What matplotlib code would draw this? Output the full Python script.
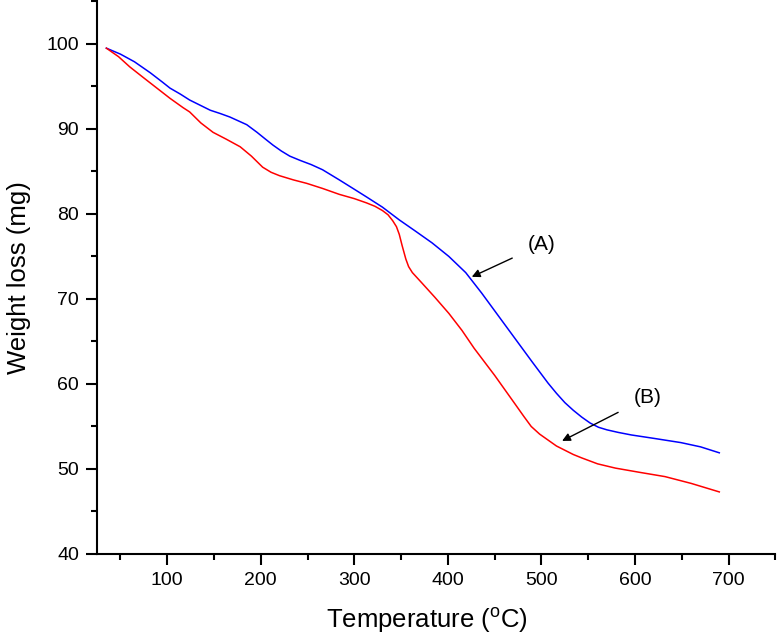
import matplotlib
matplotlib.use("Agg")
import matplotlib.pyplot as plt
from matplotlib.ticker import MultipleLocator

plt.rcParams['font.family'] = ['Liberation Sans', 'DejaVu Sans']

# Curve (A) - blue
tempA = [35, 50, 65, 82, 95, 103, 114, 124, 135, 146, 157, 167, 177, 185,
         196, 205, 213, 222, 231, 242, 254, 266, 284, 300, 313, 330, 348,
         365, 383, 401, 419, 436, 454, 472, 490, 507, 516, 525, 534, 543,
         552, 561, 570, 582, 596, 620, 649, 670, 690]
weightA = [99.5, 98.8, 97.9, 96.6, 95.5, 94.8, 94.1, 93.4, 92.8, 92.2, 91.8,
           91.4, 90.9, 90.5, 89.6, 88.8, 88.1, 87.4, 86.8, 86.3, 85.8, 85.2,
           84.0, 82.9, 82.0, 80.8, 79.3, 78.0, 76.6, 75.0, 73.1, 70.7, 68.0,
           65.3, 62.6, 60.1, 58.9, 57.8, 56.9, 56.1, 55.4, 54.9, 54.6, 54.3,
           54.0, 53.6, 53.1, 52.6, 51.9]

# Curve (B) - red
tempB = [35, 48, 60, 75, 89, 103, 117, 124, 136, 149, 163, 178, 190, 202,
         211, 220, 235, 249, 266, 284, 300, 313, 322, 330, 336, 341, 345,
         348, 351, 355, 358, 362, 367, 372, 386, 401, 415, 428, 450, 472,
         481, 489, 498, 507, 516, 525, 534, 543, 560, 579, 605, 632, 660,
         690]
weightB = [99.5, 98.5, 97.3, 96.0, 94.8, 93.6, 92.5, 92.0, 90.7, 89.6, 88.8,
           87.9, 86.8, 85.5, 84.9, 84.5, 84.0, 83.6, 83.0, 82.3, 81.8, 81.3,
           80.9, 80.4, 79.9, 79.2, 78.5, 77.6, 76.3, 74.7, 73.8, 73.1, 72.5,
           71.9, 70.2, 68.3, 66.3, 64.2, 61.0, 57.6, 56.2, 55.0, 54.1, 53.4,
           52.7, 52.2, 51.7, 51.3, 50.6, 50.1, 49.6, 49.1, 48.3, 47.3]

fig = plt.figure(figsize=(7.78, 6.44), dpi=100)
ax = fig.add_axes([0.1247, 0.1398, 0.872, 0.858])

ax.plot(tempA, weightA, color="#0000ff", lw=1.1)
ax.plot(tempB, weightB, color="#ff0000", lw=1.1)

# Annotations with arrows
ax.annotate("(A)", xy=(425.5, 72.6), xytext=(500, 76.4), fontsize=15,
            ha="center", va="center",
            arrowprops=dict(arrowstyle="-|>", color="black", lw=1.0,
                            shrinkA=10, shrinkB=0, mutation_scale=12))
ax.annotate("(B)", xy=(522, 53.3), xytext=(613, 58.4), fontsize=15,
            ha="center", va="center",
            arrowprops=dict(arrowstyle="-|>", color="black", lw=1.0,
                            shrinkA=10, shrinkB=0, mutation_scale=12))

ax.set_xlim(25, 750)
ax.set_ylim(40, 105)
ax.xaxis.set_major_locator(MultipleLocator(100))
ax.xaxis.set_minor_locator(MultipleLocator(50))
ax.yaxis.set_major_locator(MultipleLocator(10))
ax.yaxis.set_minor_locator(MultipleLocator(5))

ax.spines["top"].set_visible(False)
ax.spines["right"].set_visible(False)
for s in ["left", "bottom"]:
    ax.spines[s].set_linewidth(1.5)

ax.tick_params(which="major", direction="out", length=8, width=1.5,
               labelsize=14, pad=5)
ax.tick_params(which="minor", direction="out", length=4.5, width=1.5)

ax.set_xlabel("Temperature ($^\\mathregular{o}$C)", fontsize=18.5)
ax.xaxis.set_label_coords(0.486, -0.093)
ax.set_ylabel("Weight loss (mg)", fontsize=18.5, labelpad=11)

fig.savefig("out.png", dpi=100)
